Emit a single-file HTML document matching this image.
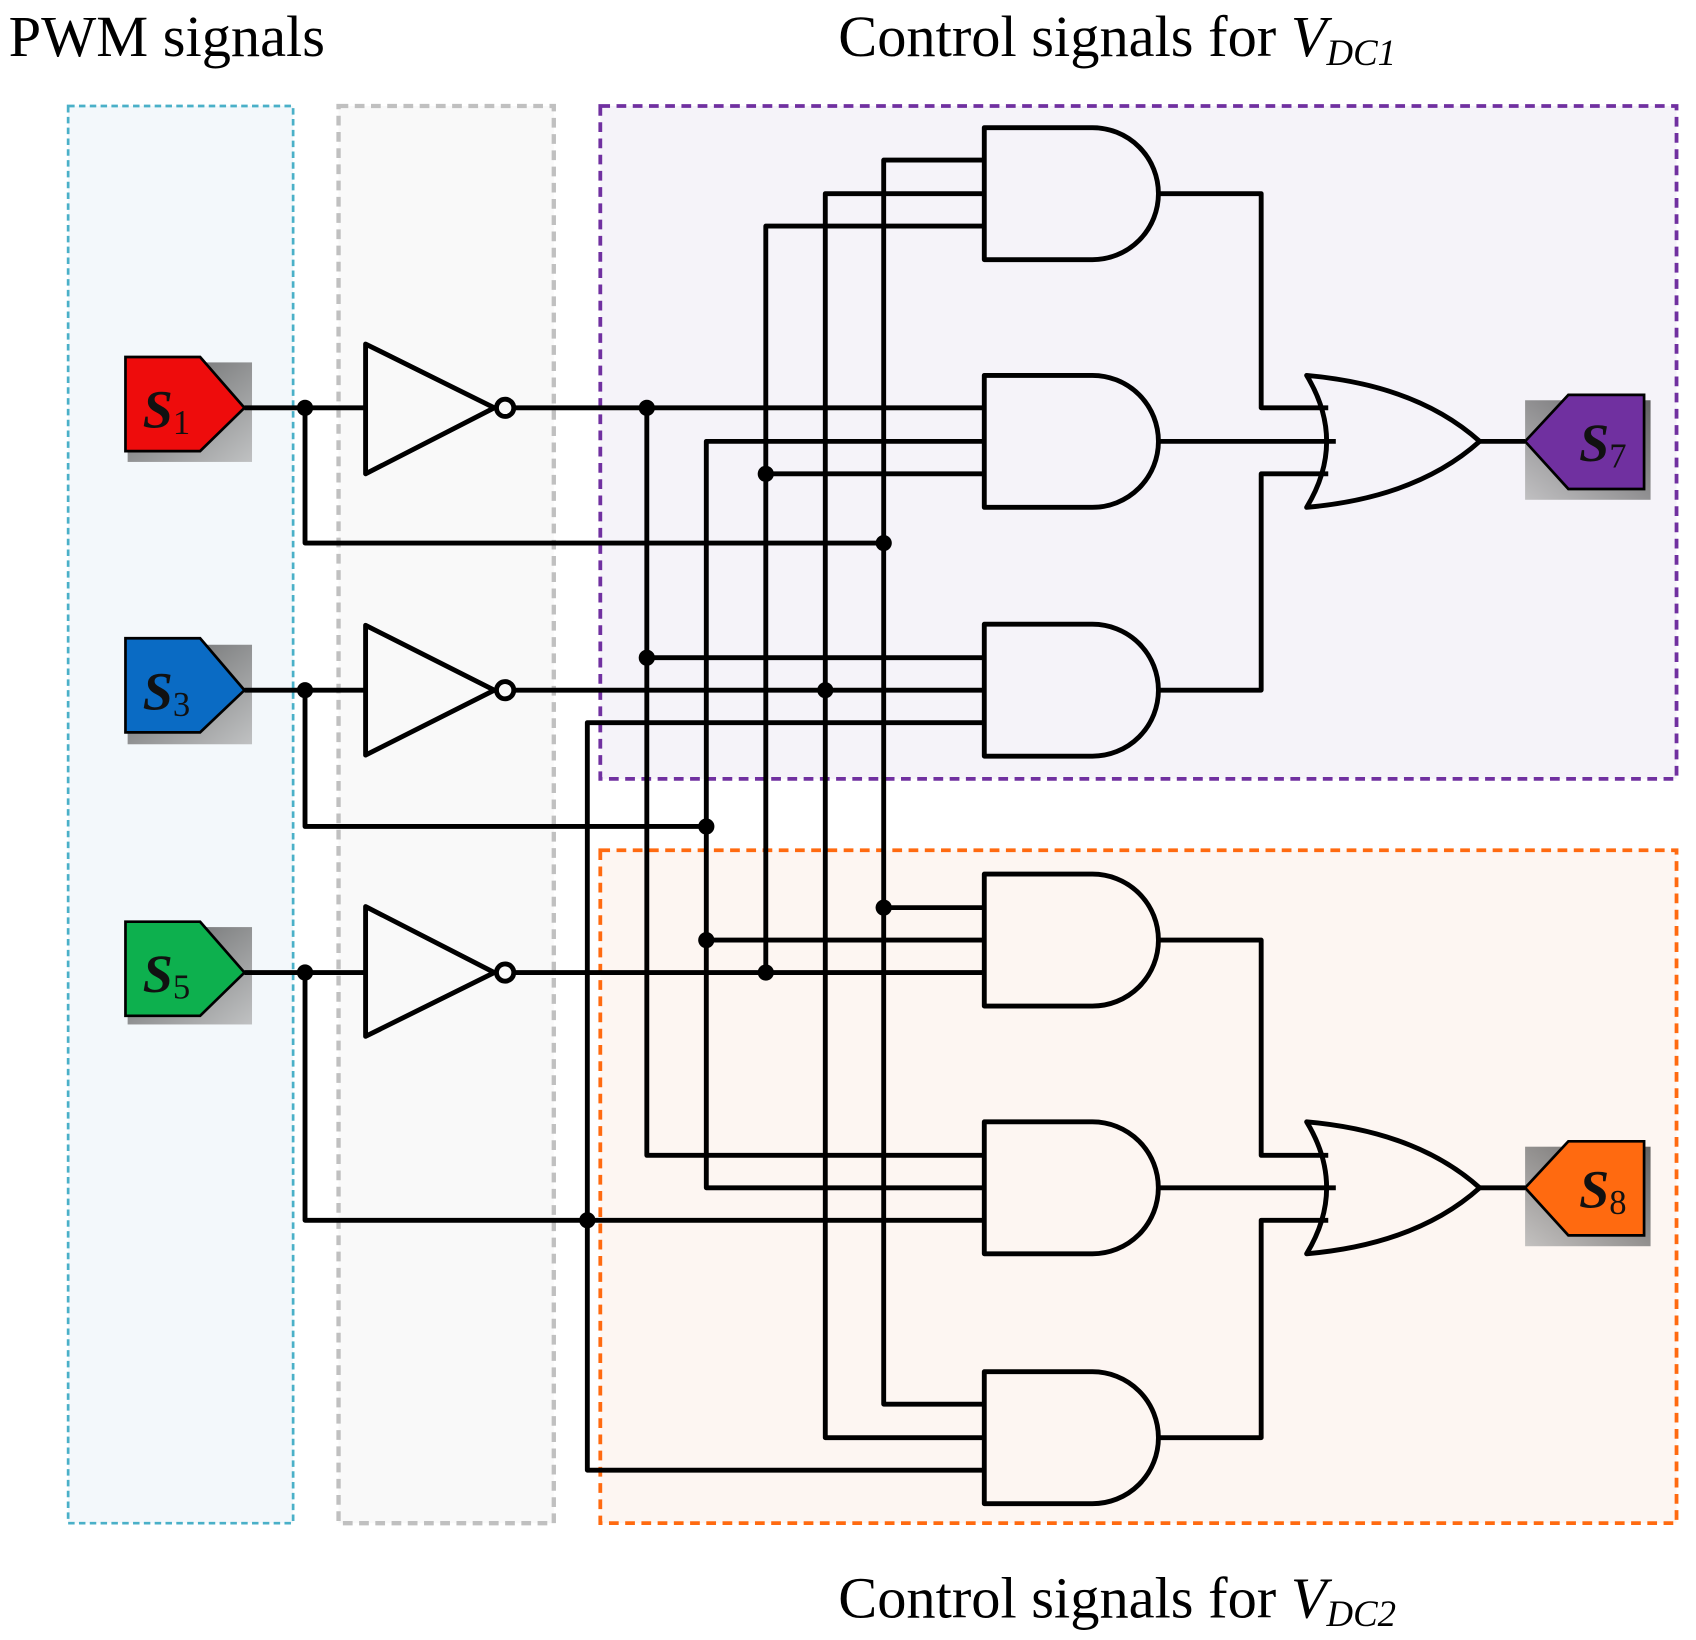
<!DOCTYPE html>
<html><head><meta charset="utf-8"><style>html,body{margin:0;padding:0;background:#fff}svg{display:block}</style></head><body>
<svg width="1696" height="1640" viewBox="0 0 1568 1516" preserveAspectRatio="none" xmlns="http://www.w3.org/2000/svg">
<defs>
<linearGradient id="sh" x1="0" y1="0" x2="1" y2="1"><stop offset="0" stop-color="#222"/><stop offset="1" stop-color="#aaa"/></linearGradient>
<linearGradient id="shl" x1="1" y1="0" x2="0" y2="1"><stop offset="0" stop-color="#222"/><stop offset="1" stop-color="#aaa"/></linearGradient>
</defs>
<g font-family="Liberation Serif, serif" font-size="54" fill="#000">
<text x="8" y="52">PWM signals</text>
<text x="775" y="52">Control signals for <tspan font-style="italic">V</tspan><tspan font-style="italic" font-size="34" dy="8">DC1</tspan></text>
<text x="775" y="1495">Control signals for <tspan font-style="italic">V</tspan><tspan font-style="italic" font-size="34" dy="8">DC2</tspan></text>
</g>
<rect x="63" y="98" width="208" height="1310" fill="#f3f8fb" stroke="#4ab0c8" stroke-width="2.5" stroke-dasharray="6,4"/>
<rect x="313" y="98" width="199" height="1310" fill="#f9f9f9" stroke="#c0c0c0" stroke-width="4" stroke-dasharray="9,6"/>
<rect x="555" y="98" width="995" height="622" fill="#f5f3f9" stroke="#7030a0" stroke-width="3.5" stroke-dasharray="9,6"/>
<rect x="555" y="786" width="995" height="622" fill="#fdf6f2" stroke="#ff6a10" stroke-width="3.5" stroke-dasharray="9,6"/>

<g stroke="#000" stroke-width="2.5">
<rect x="118" y="335" width="115" height="92" fill="url(#sh)" stroke="none" opacity="0.7"/>
<path d="M116 330 H185 L226 377 L185 417 H116 Z" fill="#ee0c0c"/>
<rect x="118" y="596" width="115" height="92" fill="url(#sh)" stroke="none" opacity="0.7"/>
<path d="M116 590 H185 L226 638 L185 677 H116 Z" fill="#0a6bc4"/>
<rect x="118" y="857" width="115" height="90" fill="url(#sh)" stroke="none" opacity="0.7"/>
<path d="M116 852 H185 L226 899 L185 939 H116 Z" fill="#0db04e"/>
<rect x="1410" y="370" width="116" height="92" fill="url(#shl)" stroke="none" opacity="0.7"/>
<path d="M1520 365 H1450 L1410 408 L1450 452 H1520 Z" fill="#7030a0"/>
<rect x="1410" y="1060" width="116" height="92" fill="url(#shl)" stroke="none" opacity="0.7"/>
<path d="M1520 1055 H1450 L1410 1098 L1450 1142 H1520 Z" fill="#ff6a10"/>
</g>
<g font-family="Liberation Serif, serif" font-style="italic" font-weight="bold" font-size="50" fill="#111">
<text x="132" y="395">S<tspan font-size="32" font-style="normal" font-weight="normal" dy="6">1</tspan></text>
<text x="132" y="656">S<tspan font-size="32" font-style="normal" font-weight="normal" dy="6">3</tspan></text>
<text x="132" y="917">S<tspan font-size="32" font-style="normal" font-weight="normal" dy="6">5</tspan></text>
<text x="1460" y="426">S<tspan font-size="32" font-style="normal" font-weight="normal" dy="6">7</tspan></text>
<text x="1460" y="1116">S<tspan font-size="32" font-style="normal" font-weight="normal" dy="6">8</tspan></text>
</g>

<g stroke="#000" stroke-width="4.5" fill="none" stroke-linejoin="round">
<path d="M226 377 H338 M282 377 V502 H817"/>
<path d="M226 638 H338 M282 638 V764 H653"/>
<path d="M226 899 H338 M282 899 V1128 H910"/>
<path d="M475 377 H910 M475 638 H910 M475 899 H910"/>
<path d="M910 148 H817 V1298 H910 M817 839 H910"/>
<path d="M910 179 H763 V1329 H910"/>
<path d="M910 209 H708 V899 M708 438 H910"/>
<path d="M910 408 H653 V1098 H910 M653 869 H910"/>
<path d="M598 377 V1068 H910 M598 608 H910"/>
<path d="M910 668 H543 V1359 H910"/>
<path d="M338 318 L457 377 L338 438 Z M338 578 L457 638 L338 698 Z M338 838 L457 899 L338 958 Z"/>
<circle cx="467" cy="377" r="8"/><circle cx="467" cy="638" r="8"/><circle cx="467" cy="899" r="8"/>
<path d="M910 118 H1010 A61 61 0 0 1 1010 240 H910 Z"/>
<path d="M910 347 H1010 A61 61 0 0 1 1010 469 H910 Z"/>
<path d="M910 577 H1010 A61 61 0 0 1 1010 699 H910 Z"/>
<path d="M910 808 H1010 A61 61 0 0 1 1010 930 H910 Z"/>
<path d="M910 1037 H1010 A61 61 0 0 1 1010 1159 H910 Z"/>
<path d="M910 1268 H1010 A61 61 0 0 1 1010 1390 H910 Z"/>
<path d="M1070 179 H1166 V377 H1228 M1070 408 H1235 M1070 638 H1166 V438 H1228 M1368 408 H1410"/>
<path d="M1070 869 H1166 V1068 H1228 M1070 1098 H1235 M1070 1329 H1166 V1128 H1228 M1368 1098 H1410"/>
<path d="M1208 347 Q1245 408 1208 469 Q1310 460 1368 408 Q1310 356 1208 347 Z"/>
<path d="M1208 1037 Q1245 1098 1208 1159 Q1310 1150 1368 1098 Q1310 1046 1208 1037 Z"/>
</g>
<g fill="#000">
<circle cx="282" cy="377" r="7.5"/><circle cx="282" cy="638" r="7.5"/><circle cx="282" cy="899" r="7.5"/>
<circle cx="598" cy="377" r="7.5"/><circle cx="598" cy="608" r="7.5"/>
<circle cx="817" cy="502" r="7.5"/><circle cx="817" cy="839" r="7.5"/>
<circle cx="763" cy="638" r="7.5"/>
<circle cx="708" cy="438" r="7.5"/><circle cx="708" cy="899" r="7.5"/>
<circle cx="653" cy="764" r="7.5"/><circle cx="653" cy="869" r="7.5"/>
<circle cx="543" cy="1128" r="7.5"/>
</g>
</svg>
</body></html>
